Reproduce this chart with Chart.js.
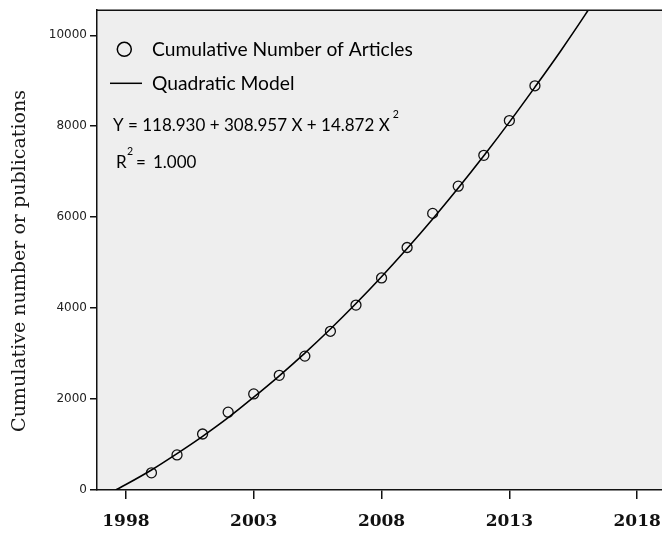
<!DOCTYPE html>
<html>
<head>
<meta charset="utf-8">
<script src="https://cdn.jsdelivr.net/npm/chart.js@4.4.1/dist/chart.umd.min.js"></script>
<style>
  html, body { margin: 0; padding: 0; background: #fff; overflow: hidden; }
  #wrap { width: 662px; height: 535px; }
</style>
</head>
<body>
<div id="wrap"><canvas id="chart" width="662" height="535"></canvas></div>
<script>
// Observed cumulative counts
const years = [1999, 2000, 2001, 2002, 2003, 2004, 2005, 2006, 2007, 2008, 2009, 2010, 2011, 2012, 2013, 2014];
const counts = [378, 772, 1232, 1712, 2113, 2521, 2944, 3490, 4066, 4663, 5333, 6083, 6681, 7360, 8124, 8889];

// Fitted curve
const curveYears = [1997.6, 1998, 1999, 2000, 2001, 2002, 2003, 2004, 2005, 2006, 2007, 2008, 2009, 2010, 2011, 2012, 2013, 2014, 2015, 2016, 2016.5];
const curveValues = [0, 120, 440, 800, 1180, 1590, 2040, 2510, 3010, 3540, 4100, 4690, 5310, 5960, 6640, 7350, 8090, 8860, 9650, 10480, 10920];

const xTicks = [1998, 2003, 2008, 2013, 2018];
const yTicks = [0, 2000, 4000, 6000, 8000, 10000];

const legendLabels = ['Cumulative Number of Articles', 'Quadratic Model'];
const equationText = 'Y = 118.930 + 308.957 X + 14.872 X';
const rSquaredText = '1.000';
const yTitle = 'Cumulative number or publications';

// fit a font size so text spans a given width
function fitSize(ctx, text, family, target, weight) {
  ctx.font = (weight || '') + ' 100px ' + family;
  return 100 * target / ctx.measureText(text).width;
}

const plotDecor = {
  id: 'plotDecor',
  beforeDraw(chart) {
    const { ctx, chartArea: a } = chart;
    ctx.save();
    ctx.fillStyle = '#eeeeee';
    ctx.fillRect(a.left, a.top, a.right - a.left, a.bottom - a.top);
    ctx.restore();
  },
  afterDraw(chart) {
    const { ctx, chartArea: a } = chart;
    ctx.save();
    // top frame line
    ctx.strokeStyle = '#111';
    ctx.lineWidth = 1.5;
    ctx.beginPath();
    ctx.moveTo(a.left, a.top);
    ctx.lineTo(a.right, a.top);
    ctx.stroke();

    // y axis title
    ctx.fillStyle = '#1a1a1a';
    const ts = fitSize(ctx, yTitle, '"DejaVu Serif"', 342);
    ctx.font = ts + 'px "DejaVu Serif"';
    ctx.textAlign = 'center';
    ctx.textBaseline = 'middle';
    ctx.translate(20, 261);
    ctx.rotate(-Math.PI / 2);
    ctx.fillText(yTitle, 0, 0);
    ctx.restore();

    // legend + equation inside plot
    ctx.save();
    ctx.fillStyle = '#000';
    ctx.strokeStyle = '#000';
    ctx.textBaseline = 'middle';
    ctx.textAlign = 'left';
    const fam = 'Lato';
    const ls = fitSize(ctx, legendLabels[0], fam, 261);
    ctx.font = ls + 'px ' + fam;

    ctx.lineWidth = 1.5;
    ctx.beginPath();
    ctx.arc(124.3, 49.3, 7, 0, Math.PI * 2);
    ctx.stroke();
    ctx.fillText(legendLabels[0], 152, 49.5);

    ctx.beginPath();
    ctx.moveTo(110, 83.3);
    ctx.lineTo(142, 83.3);
    ctx.stroke();
    ctx.fillText(legendLabels[1], 152, 83.5);

    const es = fitSize(ctx, equationText, fam, 277);
    ctx.font = es + 'px ' + fam;
    ctx.fillText(equationText, 113, 126);
    const ew = ctx.measureText(equationText).width;
    ctx.fillText('R', 116, 163);
    ctx.fillText('=', 136, 163);
    ctx.fillText(rSquaredText, 153, 163);

    ctx.font = (es * 0.62) + 'px ' + fam;
    ctx.fillText('2', 113 + ew + 3, 115);
    ctx.fillText('2', 127, 152);
    ctx.restore();
  }
};

const ctx = document.getElementById('chart').getContext('2d');
new Chart(ctx, {
  type: 'scatter',
  data: {
    datasets: [
      {
        label: legendLabels[1],
        data: curveYears.map((x, i) => ({ x: x, y: curveValues[i] })),
        showLine: true,
        borderColor: '#000',
        borderWidth: 1.6,
        pointRadius: 0,
        cubicInterpolationMode: 'monotone',
        fill: false
      },
      {
        label: legendLabels[0],
        data: years.map((x, i) => ({ x: x, y: counts[i] })),
        showLine: false,
        pointStyle: 'circle',
        pointRadius: 5,
        pointBorderWidth: 1.3,
        pointBorderColor: '#111',
        pointBackgroundColor: 'rgba(0,0,0,0)'
      }
    ]
  },
  options: {
    responsive: false,
    animation: false,
    layout: { padding: { top: 7, left: 0, right: 0, bottom: 0 }, autoPadding: false },
    plugins: { legend: { display: false }, tooltip: { enabled: false } },
    scales: {
      x: {
        type: 'linear',
        min: 1996.87,
        max: 2018.97,
        afterBuildTicks: (s) => { s.ticks = xTicks.map(v => ({ value: v })); },
        afterFit: (s) => { s.height = 45; },
        ticks: {
          color: '#111',
          padding: 0,
          font: { family: '"DejaVu Serif"', size: 17, weight: 'bold', lineHeight: 2.6 },
          callback: (v) => String(v)
        },
        grid: { drawOnChartArea: false, color: '#111', lineWidth: 1.5, tickLength: 9 },
        border: { display: true, color: '#111', width: 1.5 }
      },
      y: {
        min: 0,
        max: 10551,
        afterBuildTicks: (s) => { s.ticks = yTicks.map(v => ({ value: v })); },
        afterFit: (s) => { s.width = 97; },
        ticks: {
          color: '#222',
          padding: 3,
          font: { family: '"DejaVu Sans"', size: 12 },
          callback: (v) => String(v)
        },
        grid: { drawOnChartArea: false, color: '#111', lineWidth: 1.5, tickLength: 7 },
        border: { display: true, color: '#111', width: 1.5 }
      }
    }
  },
  plugins: [plotDecor]
});
</script>
</body>
</html>
